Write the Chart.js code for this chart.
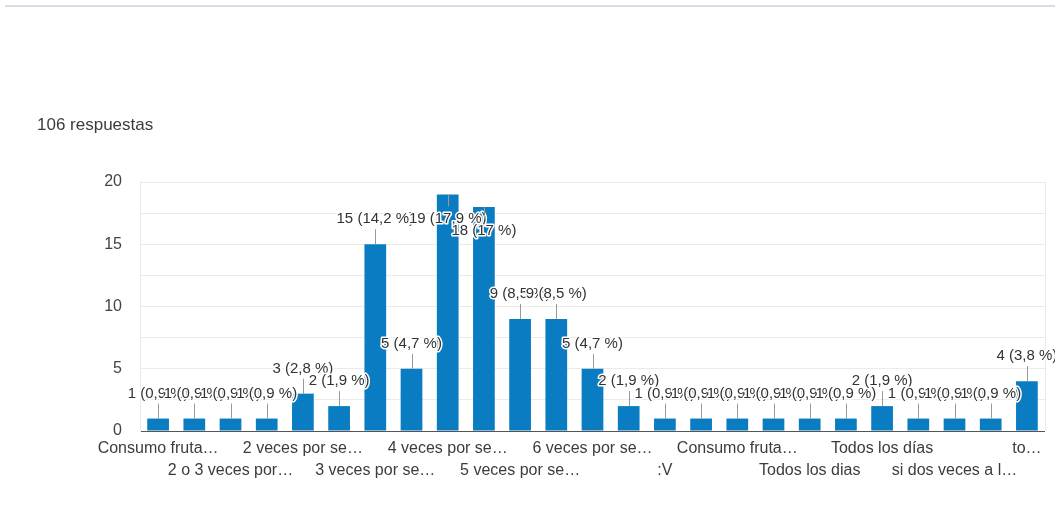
<!DOCTYPE html>
<html lang="es">
<head>
<meta charset="utf-8">
<title>Consumo de fruta</title>
<script src="https://cdn.jsdelivr.net/npm/chart.js@4.4.1/dist/chart.umd.min.js"></script>
<style>
  html, body { margin: 0; padding: 0; background: #fff; }
  #pagina { position: relative; width: 1055px; height: 506px; overflow: hidden;
            font-family: "Liberation Sans", Arial, sans-serif; }
  #linea-superior { position: absolute; left: 5px; top: 5px; width: 1050px; height: 2px; background: #d5dde7; }
  #total { position: absolute; left: 37px; top: 115px; font-size: 17px; color: #3c3c3c; }
  #grafico { position: absolute; left: 0; top: 0; }
</style>
</head>
<body>
<div id="pagina">
  <canvas id="grafico" width="1055" height="506"></canvas>
  <div id="linea-superior"></div>
  <div id="total">106 respuestas</div>
</div>
<script>
// Respuestas agrupadas (solo se rotulan las categorías pares, en dos filas)
const categorias = [
  'Consumo fruta…', '1 vez por semana', '2 o 3 veces por…', '2 o 3 veces a la…',
  '2 veces por se…', '3 veces a la sem…', '3 veces por se…', '3 o 4 veces por…',
  '4 veces por se…', '4 o 5 veces por…', '5 veces por se…', '5 o 6 veces por…',
  '6 veces por se…', '6 veces a la sem…', ':V', 'A veces',
  'Consumo fruta…', 'Nunca', 'Todos los dias', 'Todos los días…',
  'Todos los días', 'Una vez al día', 'si dos veces a l…', 'Siempre', 'to…'
];
const respuestas = [1, 1, 1, 1, 3, 2, 15, 5, 19, 18, 9, 9, 5, 2, 1, 1, 1, 1, 1, 1, 2, 1, 1, 1, 4];
const totalRespuestas = 106;
const marcasY = [0, 5, 10, 15, 20];

const fuente = '"Liberation Sans", Arial, sans-serif';
const azul = '#0a7cc1';

function formatoPorcentaje(v) {
  const p = Math.round(v / totalRespuestas * 1000) / 10;
  return String(p).replace('.', ',');
}

// Etiquetas "n (x %)" con línea guía sobre cada barra
const etiquetasBarras = {
  id: 'etiquetasBarras',
  afterDatasetsDraw(chart) {
    const ctx = chart.ctx;
    const area = chart.chartArea;
    const barras = chart.getDatasetMeta(0).data;
    ctx.save();
    ctx.font = '15px ' + fuente;
    ctx.textAlign = 'center';
    ctx.textBaseline = 'middle';
    barras.forEach((barra, i) => {
      const v = respuestas[i];
      const texto = v + ' (' + formatoPorcentaje(v) + ' %)';
      let yTexto = barra.y - 25;
      let yLinea = barra.y - 15;
      if (yTexto - 8 < area.top) {
        yTexto = barra.y + 24;
        yLinea = barra.y + 12;
      }
      ctx.strokeStyle = '#9a9a9a';
      ctx.lineWidth = 1;
      ctx.beginPath();
      ctx.moveTo(Math.round(barra.x) + 0.5, barra.y);
      ctx.lineTo(Math.round(barra.x) + 0.5, yLinea);
      ctx.stroke();
      ctx.lineJoin = 'round';
      ctx.strokeStyle = '#fff';
      ctx.lineWidth = 3;
      ctx.strokeText(texto, barra.x, yTexto);
      ctx.fillStyle = '#333';
      ctx.fillText(texto, barra.x, yTexto);
    });
    ctx.restore();
  }
};

// Borde derecho del área del gráfico
const bordeDerecho = {
  id: 'bordeDerecho',
  beforeDatasetsDraw(chart) {
    const { ctx, chartArea } = chart;
    ctx.save();
    ctx.strokeStyle = '#ebebeb';
    ctx.lineWidth = 1;
    ctx.beginPath();
    ctx.moveTo(chartArea.right + 0.5, chartArea.top);
    ctx.lineTo(chartArea.right + 0.5, chartArea.bottom);
    ctx.stroke();
    ctx.restore();
  }
};

new Chart(document.getElementById('grafico').getContext('2d'), {
  type: 'bar',
  data: {
    labels: categorias,
    datasets: [{
      data: respuestas,
      backgroundColor: azul,
      barPercentage: 0.6,
      categoryPercentage: 1
    }]
  },
  options: {
    responsive: false,
    animation: false,
    layout: { padding: { top: 182, right: 10, left: 0, bottom: 0 } },
    plugins: {
      legend: { display: false },
      tooltip: { enabled: false }
    },
    scales: {
      x: {
        grid: { display: false, drawTicks: false },
        border: { display: false },
        afterFit(scale) { scale.height = 75; },
        ticks: {
          autoSkip: false,
          maxRotation: 0,
          minRotation: 0,
          padding: 7,
          color: '#3c3c3c',
          font: { family: fuente, size: 16, lineHeight: 22 / 16 },
          callback: (valor, i) => {
            if (i % 4 === 0) return categorias[i];
            if (i % 4 === 2) return ['', categorias[i]];
            return '';
          }
        }
      },
      y: {
        min: 0,
        max: 20,
        afterFit(scale) { scale.width = 140; },
        grid: {
          drawTicks: false,
          color: c => (c.tick && c.tick.value === 0) ? '#555' : '#ebebeb'
        },
        border: { display: true, color: '#ebebeb' },
        ticks: {
          stepSize: 2.5,
          padding: 18,
          color: '#444',
          font: { family: fuente, size: 16 },
          callback: v => marcasY.includes(v) ? v : ''
        }
      }
    }
  },
  plugins: [bordeDerecho, etiquetasBarras]
});
</script>
</body>
</html>
